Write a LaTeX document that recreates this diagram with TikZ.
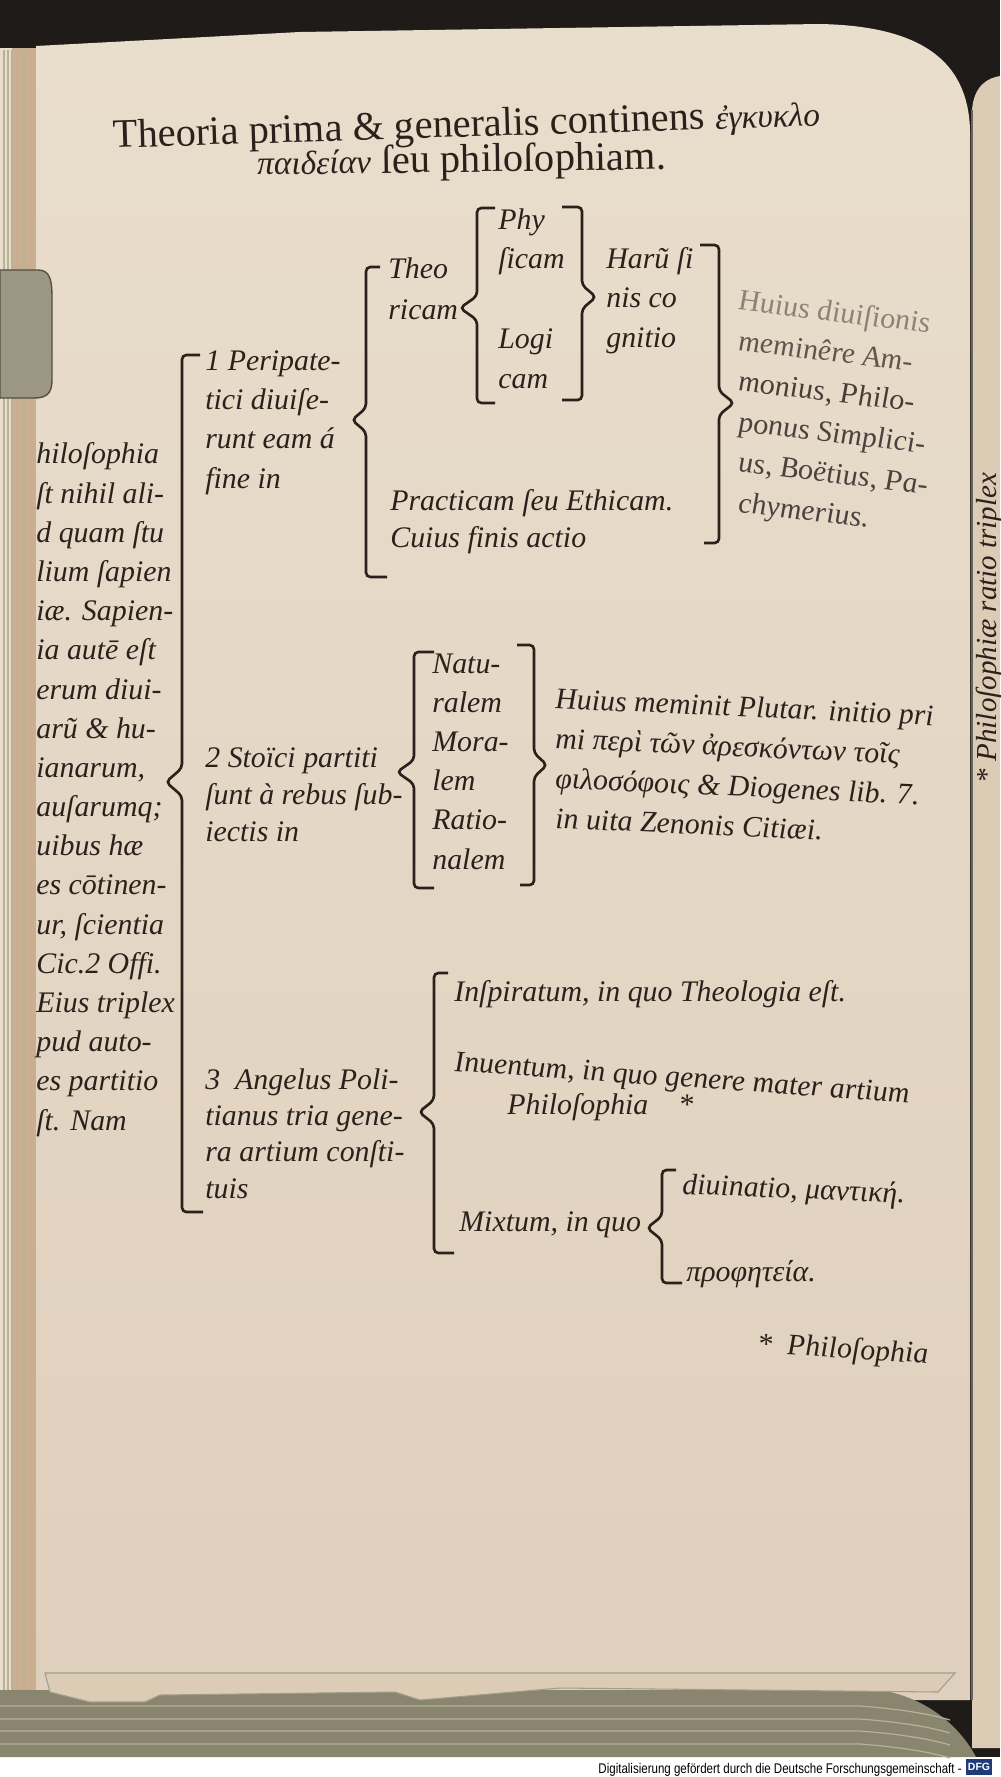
\documentclass[tikz,border=0pt]{standalone}
\usepackage{fontspec}
\setmainfont{Liberation Serif}
\setsansfont{Liberation Sans}
\definecolor{ink}{HTML}{2A211C}
\definecolor{pale}{HTML}{8E8177}
\definecolor{paperhi}{HTML}{E9DDCC}
\definecolor{paperlo}{HTML}{DFD0BD}
\definecolor{night}{HTML}{1E1B19}
\definecolor{leaf}{HTML}{DCCBB5}
\definecolor{gutter}{HTML}{C9AE8F}
\definecolor{edges}{HTML}{8A856E}
\definecolor{edgeline}{HTML}{B7B198}
\definecolor{dfgblue}{HTML}{1F3C78}
\begin{document}
\begin{tikzpicture}[x=0.02cm,y=-0.02cm,
  brak/.style={draw=ink,line width=1.5pt,rounded corners=2.5pt},
  lat/.style={anchor=base west,inner sep=0pt,align=left,text=ink,font=\itshape\fontsize{17}{22.3}\selectfont},
  rom/.style={anchor=base west,inner sep=0pt,text=ink,font=\fontsize{23}{26}\selectfont}]
\useasboundingbox (0,0) rectangle (1000,1777);
% page and book
\fill[white] (0,0) rectangle (1000,1777);
\fill[night] (0,0) rectangle (1000,1757);
\fill[leaf] (972,110) .. controls (974,85) and (988,78) .. (1000,76) -- (1000,1748) -- (972,1748) -- cycle;
\draw[ink!70,line width=0.8pt] (972,110) -- (972,1700);
\fill[gutter] (0,48) rectangle (36,1700);
\fill[paperhi] (0,48) rectangle (12,1700);
\foreach \xx in {4,8,12,24} \draw[edgeline,line width=0.6pt] (\xx,50) -- (\xx,1700);
\shade[top color=paperhi,bottom color=paperlo] (36,46) -- (300,32) -- (820,24) .. controls (920,26) and (968,60) .. (970,130) -- (970,1700) -- (36,1700) -- cycle;
\fill[edges] (0,1690) -- (880,1690) .. controls (930,1698) and (962,1730) .. (976,1757) -- (0,1757) -- cycle;
\foreach \yy in {1706,1719,1731,1744} \draw[edgeline,line width=0.7pt] (0,\yy) -- (860,\yy) .. controls (900,\yy+3) and (930,\yy+8) .. (950,\yy+14);
\fill[leaf,draw=edges!80,line width=0.6pt] (45,1673) -- (955,1673) -- (938,1692) -- (560,1688) -- (420,1700) -- (395,1692) -- (160,1695) -- (145,1702) -- (90,1702) -- (50,1692) -- cycle;
\fill[edges!85!white,draw=edges!60!black,line width=0.8pt] (0,270) -- (38,270) .. controls (50,270) and (52,280) .. (52,298) -- (52,380) .. controls (52,394) and (46,398) .. (34,398) -- (0,398) -- cycle;
% title
\node[rom,rotate=1.8] (title) at (113,148) {Theoria prima \& generalis continens {\itshape\fontsize{19}{19}\selectfont ἐγκυκλο}};
\node[rom,rotate=0.8] (title2) at (257,175) {{\itshape\fontsize{19}{19}\selectfont παιδείαν} ſeu philoſophiam.};
% margin column (anchored at last line)
\node[lat] (marg) at (36,1130) {hiloſophia\\ſt nihil ali-\\d quam ſtu\\lium ſapien\\iæ. Sapien-\\ia autē eſt\\erum diui-\\arũ \& hu-\\ianarum,\\auſarumq;\\uibus hæ\\es cōtinen-\\ur, ſcientia\\Cic.2 Offi.\\Eius triplex\\pud auto-\\es partitio\\ſt. Nam};
\draw[brak] (200,355) -- (182,355) -- (182,768) -- (166,782) -- (182,796) -- (182,1212) -- (203,1212);
% 1 Peripatetici
\node[lat] (peri) at (205,488) {1 Peripate-\\tici diuiſe-\\runt eam á\\fine in};
\draw[brak] (380,267) -- (366,267) -- (366,408) -- (352,420) -- (366,432) -- (366,577) -- (387,577);
\node[lat,font=\itshape\fontsize{17}{23}\selectfont] (theo) at (388,319) {Theo\\ricam};
\draw[brak] (495,208) -- (477,208) -- (477,296) -- (460,308) -- (477,320) -- (477,403) -- (495,403);
\node[lat] (phy) at (498,269) {Phy\\ſicam};
\node[lat] (logi) at (498,388) {Logi\\cam};
\draw[brak] (562,207) -- (582,207) -- (582,285) -- (596,297) -- (582,309) -- (582,400) -- (562,400);
\node[lat] (harum) at (606,347) {Harũ ſi\\nis co\\gnitio};
\node[lat,font=\itshape\fontsize{17}{20.5}\selectfont] (pract) at (390,547) {Practicam ſeu Ethicam.\\Cuius finis actio};
\draw[brak] (700,245) -- (719,245) -- (719,391) -- (734,403) -- (719,415) -- (719,543) -- (704,543);
\node[lat,yslant=-0.12,text=ink!85,font=\itshape\fontsize{17}{23}\selectfont] (huius) at (738,512) {{\color{pale}Huius diuiſionis}\\{\color{pale!55!ink}meminêre Am-}\\{\color{pale!30!ink}monius, Philo-}\\ponus Simplici-\\us, Boëtius, Pa-\\chymerius.};
% 2 Stoici
\node[lat,font=\itshape\fontsize{17}{21}\selectfont] (stoic) at (205,841) {2 Stoïci partiti\\ſunt à rebus ſub-\\iectis in};
\draw[brak] (434,652) -- (414,652) -- (414,760) -- (397,772) -- (414,784) -- (414,888) -- (434,888);
\node[lat] (natu) at (432,869) {Natu-\\ralem\\Mora-\\lem\\Ratio-\\nalem};
\draw[brak] (517,645) -- (534,645) -- (534,753) -- (547,765) -- (534,777) -- (534,885) -- (520,885);
\node[lat,yslant=-0.045,font=\itshape\fontsize{17}{22.7}\selectfont] (plut) at (555,828) {Huius meminit Plutar. initio pri\\mi περὶ τῶν ἀρεσκόντων τοῖς\\φιλοσόφοις \& Diogenes lib. 7.\\in uita Zenonis Citiæi.};
% 3 Politianus
\node[lat,font=\itshape\fontsize{17}{20.5}\selectfont] (angel) at (205,1198) {3\enspace Angelus Poli-\\tianus tria gene-\\ra artium conſti-\\tuis};
\draw[brak] (448,973) -- (434,973) -- (434,1100) -- (419,1112) -- (434,1124) -- (434,1253) -- (454,1253);
\node[lat] (insp) at (454,1001) {Inſpiratum, in quo Theologia eſt.};
\node[lat,yslant=-0.07] (inuen) at (454,1071) {Inuentum, in quo genere mater artium};
\node[lat] (philo) at (507,1114) {Philoſophia\quad *};
\node[lat] (mixt) at (459,1231) {Mixtum, in quo};
\draw[brak] (676,1170) -- (662,1170) -- (662,1216) -- (647,1228) -- (662,1240) -- (662,1283) -- (682,1283);
\node[lat,yslant=-0.04] (diui) at (682,1194) {diuinatio, μαντική.};
\node[lat] (proph) at (686,1281) {προφητεία.};
\node[lat,yslant=-0.06] (note) at (757,1353) {*\enspace Philoſophia};
% side note and footer
\node[rotate=90,inner sep=0pt,text=ink,font=\itshape\fontsize{16.5}{16.5}\selectfont] (side) at (989,628) {* Philoſophiæ ratio triplex};
\node[anchor=base east,inner sep=0pt,xscale=0.82,font=\sffamily\fontsize{8}{8}\selectfont] (dfg) at (962,1773) {Digitalisierung gefördert durch die Deutsche Forschungsgemeinschaft -};
\node[fill=dfgblue,text=white,inner sep=1pt,minimum width=0.52cm,minimum height=0.32cm,font=\sffamily\bfseries\fontsize{6}{6}\selectfont] (logo) at (979,1767) {DFG};
\end{tikzpicture}
\end{document}
